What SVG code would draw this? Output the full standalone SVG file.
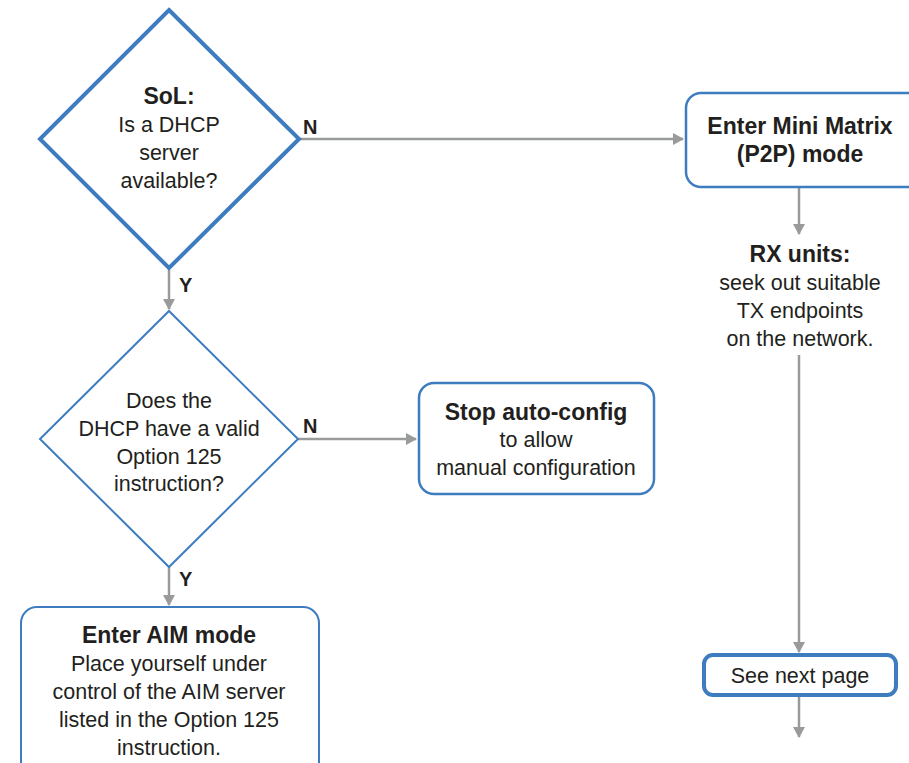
<svg xmlns="http://www.w3.org/2000/svg" width="909" height="763" viewBox="0 0 909 763">
<defs>
<style>
.t{font-family:"Liberation Sans",Arial,sans-serif;font-size:21.5px;fill:#231f20;text-anchor:middle}
.b{font-weight:bold;font-size:23px}
.lbl{font-family:"Liberation Sans",Arial,sans-serif;font-size:20px;font-weight:bold;fill:#231f20}
.node{fill:#fff;stroke:#3e7cc0}
.c{fill:none;stroke:#999a9c;stroke-width:2.5}
</style>
<marker id="ah" markerWidth="12" markerHeight="12" refX="10" refY="6" orient="auto" markerUnits="userSpaceOnUse">
<path d="M0,0 L11,6 L0,12 Z" fill="#999a9c"/>
</marker>
</defs>
<rect width="909" height="763" fill="#fff"/>
<g id="connectors">
<path class="c" d="M169,268 V309" marker-end="url(#ah)"/>
<path class="c" d="M169,567 V605" marker-end="url(#ah)"/>
<path class="c" d="M299,139 H683" marker-end="url(#ah)"/>
<path class="c" d="M298,439 H416" marker-end="url(#ah)"/>
<path class="c" d="M799,187 V234" marker-end="url(#ah)"/>
<path class="c" d="M799,355 V652" marker-end="url(#ah)"/>
<path class="c" d="M799,696 V737" marker-end="url(#ah)"/>
<text class="lbl" x="303" y="134">N</text>
<text class="lbl" x="303" y="433">N</text>
<text class="lbl" x="179" y="292">Y</text>
<text class="lbl" x="179" y="586">Y</text>
</g>
<g id="dhcp-available">
<path class="node" stroke-width="4" d="M169,10 L299,139 L169,268 L40,139 Z"/>
<text class="t b" x="169" y="104">SoL:</text>
<text class="t" x="169" y="132">Is a DHCP</text>
<text class="t" x="169" y="160">server</text>
<text class="t" x="169" y="188">available?</text>
</g>
<g id="option125">
<path class="node" stroke-width="2" d="M169,311 L298,439 L169,567 L40,439 Z"/>
<text class="t" x="169" y="408">Does the</text>
<text class="t" x="169" y="436">DHCP have a valid</text>
<text class="t" x="169" y="464">Option 125</text>
<text class="t" x="169" y="491">instruction?</text>
</g>
<g id="stop-autoconfig">
<rect class="node" stroke-width="2.5" x="419" y="383" width="235" height="111" rx="15"/>
<text class="t b" x="536" y="420">Stop auto-config</text>
<text class="t" x="536" y="447">to allow</text>
<text class="t" x="536" y="475">manual configuration</text>
</g>
<g id="mini-matrix">
<rect class="node" stroke-width="2.5" x="686" y="93" width="240" height="94" rx="15"/>
<text class="t b" x="800" y="134">Enter Mini Matrix</text>
<text class="t b" x="800" y="162">(P2P) mode</text>
</g>
<g id="rx-units">
<text class="t b" x="800" y="262">RX units:</text>
<text class="t" x="800" y="290">seek out suitable</text>
<text class="t" x="800" y="318">TX endpoints</text>
<text class="t" x="800" y="346">on the network.</text>
</g>
<g id="see-next-page">
<rect class="node" stroke-width="4" x="704" y="655" width="192" height="40" rx="9"/>
<text class="t" x="800" y="683">See next page</text>
</g>
<g id="aim-mode">
<rect class="node" stroke-width="2" x="21" y="607" width="298" height="175" rx="16"/>
<text class="t b" x="169" y="643">Enter AIM mode</text>
<text class="t" x="169" y="671">Place yourself under</text>
<text class="t" x="169" y="699">control of the AIM server</text>
<text class="t" x="169" y="727">listed in the Option 125</text>
<text class="t" x="169" y="755">instruction.</text>
</g>
</svg>
